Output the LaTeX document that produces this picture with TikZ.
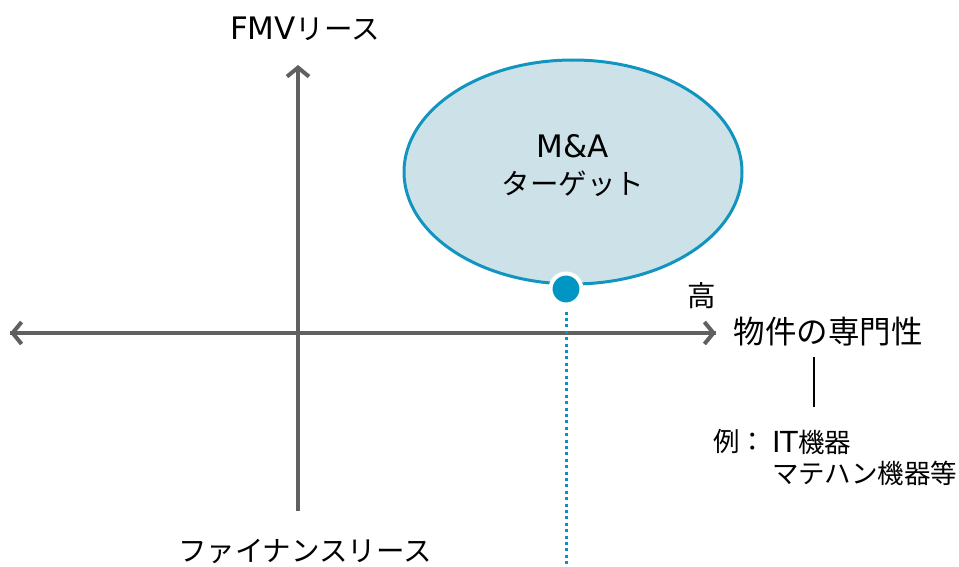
\documentclass[tikz,border=0pt]{standalone}
\usepackage{fontspec}
\setmainfont{Noto Sans CJK JP}
\newfontfamily\lat{DejaVu Sans}
\usetikzlibrary{arrows.meta,shapes.geometric}
\definecolor{axisgray}{HTML}{606060}
\definecolor{ellfill}{HTML}{CDE2E8}
\definecolor{ellborder}{HTML}{1195C0}
\definecolor{dotblue}{HTML}{0096C3}
\tikzset{
  axis/.style={draw=axisgray, line width=4pt, arrows={-Straight Barb[length=9pt,width=22pt,line width=4pt]}},
  big/.style={font=\fontsize{28.5}{34}\selectfont, inner sep=0pt},
  small/.style={font=\fontsize{26.5}{30}\selectfont, inner sep=0pt, anchor=west},
}
\begin{document}
\begin{tikzpicture}[x=1pt,y=-1pt]
\useasboundingbox (0,0) rectangle (959,567);
% ellipse
\node (ell) [ellipse, draw=ellborder, fill=ellfill, line width=3pt, minimum width=338pt, minimum height=224pt, inner sep=0pt] at (573,172) {};
\node (ma) [big, font=\lat\fontsize{31}{34}\selectfont] at (573,146) {M\&A};
\node (tg) [big] at (573,184) {ターゲット};
% axes
\coordinate (origin) at (298,333);
\coordinate (xl) at (10,333);
\coordinate (xr) at (716,333);
\coordinate (yt) at (298,65);
\coordinate (yb) at (298,511);
\draw[axis] (xr) -- (xl);
\draw[axis] (xl) -- (xr);
\draw[axis] (yb) -- (yt);
% dotted line and dot
\coordinate (dend) at (566,567);
\node (dot) [circle, fill=dotblue, draw=white, line width=4pt, minimum size=31pt, inner sep=0pt] at (566,289) {};
\draw[dotblue, line width=3pt, dash pattern=on 3pt off 3.4pt] (dot.south) ++(0,5) -- (dend);
% labels
\node (fmv) [big, anchor=base] at (305,40) {{\lat\fontsize{31}{34}\selectfont FMV}リース};
\node (fin) [big] at (305,551) {ファイナンスリース};
\node (hi) [big] at (702,296) {高};
\node (sen) [big, font=\fontsize{31.5}{34}\selectfont] at (828,332) {物件の専門性};
\coordinate (vt) at (814,357);
\coordinate (vb) at (814,407);
\draw[black, line width=1.5pt] (vt) -- (vb);
\node (rei) [small] at (713,442) {例：};
\node (it) [small, anchor=base west] at (772,452) {{\lat\fontsize{29}{30}\selectfont IT}機器};
\node (mt) [small] at (772,473) {マテハン機器等};
\end{tikzpicture}
\end{document}
